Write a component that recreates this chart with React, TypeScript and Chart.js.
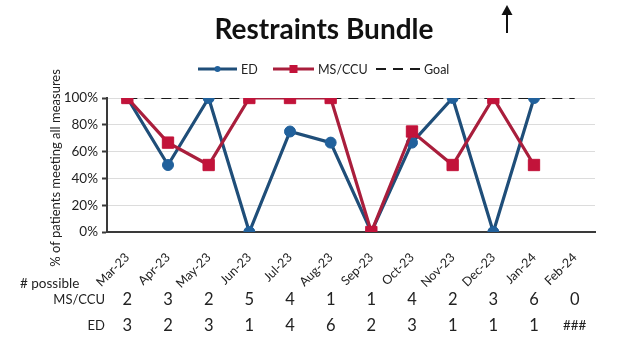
import React, { useEffect, useRef } from "react";
import { Chart, registerables } from "chart.js";

Chart.register(...registerables);

const categories = ["Mar-23", "Apr-23", "May-23", "Jun-23", "Jul-23", "Aug-23", "Sep-23", "Oct-23", "Nov-23", "Dec-23", "Jan-24", "Feb-24"];
const edValues = [100, 50, 100, 0, 75, 66.7, 0, 66.7, 100, 0, 100, null];
const msCcuValues = [100, 66.7, 50, 100, 100, 100, 0, 75, 50, 100, 50, null];
const goalValues = [100, 100, 100, 100, 100, 100, 100, 100, 100, 100, 100, 100];
const msCcuPossible = ["2", "3", "2", "5", "4", "1", "1", "4", "2", "3", "6", "0"];
const edPossible = ["3", "2", "3", "1", "4", "6", "2", "3", "1", "1", "1", "###"];
const yTicks = [0, 20, 40, 60, 80, 100];

const FONT = "Lato, 'Open Sans', sans-serif";
const TEXT = "#222222";
const ED_LINE = "#1F4E79";
const ED_POINT = "#21619C";
const MS_LINE = "#A91E3C";
const MS_POINT = "#C2133A";

// Title, arrow, legend, axis title and the "# possible" table under the axis.
const decorations = {
  id: "decorations",
  afterDraw(chart: any) {
    const ctx = chart.ctx as CanvasRenderingContext2D;
    const x = chart.scales.x;
    ctx.save();

    // title
    ctx.fillStyle = "#111";
    ctx.font = `bold 28px ${FONT}`;
    ctx.textAlign = "center";
    ctx.textBaseline = "middle";
    ctx.fillText("Restraints Bundle", 324, 30);

    // arrow
    ctx.strokeStyle = "#111";
    ctx.fillStyle = "#111";
    ctx.lineWidth = 2;
    ctx.beginPath();
    ctx.moveTo(507, 33);
    ctx.lineTo(507, 12);
    ctx.stroke();
    ctx.beginPath();
    ctx.moveTo(507, 5);
    ctx.lineTo(501.5, 15);
    ctx.lineTo(512.5, 15);
    ctx.closePath();
    ctx.fill();

    // y-axis title
    ctx.save();
    ctx.translate(56, 168);
    ctx.rotate(-Math.PI / 2);
    ctx.fillStyle = TEXT;
    ctx.font = `13px ${FONT}`;
    ctx.textAlign = "center";
    ctx.textBaseline = "middle";
    ctx.fillText("% of patients meeting all measures", 0, 0);
    ctx.restore();

    // legend
    const ly = 69;
    ctx.font = `12.5px ${FONT}`;
    ctx.textAlign = "left";
    ctx.textBaseline = "middle";
    const ds = chart.data.datasets;
    const items = [
      { d: ds[1], x0: 198, x1: 237, tx: 241 },
      { d: ds[0], x0: 273, x1: 314, tx: 318 },
      { d: ds[2], x0: 376, x1: 421, tx: 424 },
    ];
    for (const it of items) {
      ctx.strokeStyle = it.d.borderColor;
      ctx.lineWidth = it.d.borderWidth;
      ctx.setLineDash(it.d.borderDash || []);
      ctx.beginPath();
      ctx.moveTo(it.x0, ly);
      ctx.lineTo(it.x1, ly);
      ctx.stroke();
      ctx.setLineDash([]);
      const mx = (it.x0 + it.x1) / 2;
      if (it.d.pointStyle === "circle") {
        ctx.fillStyle = it.d.pointBackgroundColor;
        ctx.beginPath();
        ctx.arc(mx, ly, 3, 0, Math.PI * 2);
        ctx.fill();
      } else if (it.d.pointStyle === "rect") {
        ctx.fillStyle = it.d.pointBackgroundColor;
        ctx.fillRect(mx - 4, ly - 4, 8, 8);
      }
      ctx.fillStyle = TEXT;
      ctx.fillText(it.d.label, it.tx, ly + 1);
    }

    // table of possible counts
    ctx.fillStyle = TEXT;
    ctx.font = `13.5px ${FONT}`;
    ctx.textAlign = "left";
    ctx.fillText("# possible", 20, 284);
    ctx.font = `13px ${FONT}`;
    ctx.textAlign = "right";
    ctx.fillText("MS/CCU", 105, 300);
    ctx.fillText("ED", 105, 326);
    ctx.textAlign = "center";
    categories.forEach((_, i) => {
      const px = x.getPixelForValue(i);
      ctx.font = `16.5px ${FONT}`;
      ctx.fillText(msCcuPossible[i], px, 300);
      const ev = edPossible[i];
      ctx.font = ev.length > 1 ? `13.5px ${FONT}` : `16.5px ${FONT}`;
      ctx.fillText(ev, px, 326);
    });

    ctx.restore();
  },
};

export default function App() {
  const canvasRef = useRef<HTMLCanvasElement | null>(null);

  useEffect(() => {
    const canvas = canvasRef.current;
    if (!canvas) return;
    const chart = new Chart(canvas, {
      type: "line",
      data: {
        labels: categories,
        datasets: [
          {
            label: "MS/CCU",
            data: msCcuValues,
            borderColor: MS_LINE,
            borderWidth: 3.2,
            pointStyle: "rect",
            pointRadius: 8,
            pointBackgroundColor: MS_POINT,
            pointBorderColor: MS_POINT,
            pointBorderWidth: 1,
            order: 0,
          },
          {
            label: "ED",
            data: edValues,
            borderColor: ED_LINE,
            borderWidth: 3.2,
            pointStyle: "circle",
            pointRadius: 5.5,
            pointBackgroundColor: ED_POINT,
            pointBorderColor: ED_POINT,
            pointBorderWidth: 1,
            order: 1,
          },
          {
            label: "Goal",
            data: goalValues,
            borderColor: "#1a1a1a",
            borderWidth: 2,
            borderDash: [10, 7],
            pointRadius: 0,
            pointStyle: false as any,
            order: 2,
          },
        ] as any,
      },
      options: {
        responsive: false,
        animation: false,
        layout: { padding: { left: 40, right: 25, top: 98, bottom: 0 } },
        plugins: {
          legend: { display: false },
          tooltip: { enabled: false },
          title: { display: false },
        },
        scales: {
          x: {
            offset: true,
            grid: { display: false },
            border: { display: true, color: "#3a3a3a", width: 2 },
            ticks: {
              color: TEXT,
              font: { family: FONT, size: 12.5 },
              minRotation: 45,
              maxRotation: 45,
              padding: 10,
            },
            afterFit: (s: any) => {
              s.height = 107;
            },
          },
          y: {
            min: 0,
            max: 100,
            afterBuildTicks: (s: any) => {
              s.ticks = yTicks.map((v) => ({ value: v }));
            },
            grid: {
              color: "#dcdcdc",
              lineWidth: 1,
              tickColor: "#3a3a3a",
              tickLength: 5,
              tickWidth: 2,
            },
            border: { display: true, color: "#3a3a3a", width: 2 },
            ticks: {
              color: TEXT,
              font: { family: FONT, size: 13.5 },
              padding: 4,
              callback: (v: any) => `${v}%`,
            },
            afterFit: (s: any) => {
              s.width = 67;
            },
          },
        },
      },
      plugins: [decorations],
    });
    return () => chart.destroy();
  }, []);

  return (
    <div style={{ position: "fixed", left: 0, top: 0, width: 620, height: 339, background: "#fff" }}>
      <canvas ref={canvasRef} width={620} height={339} style={{ display: "block" }} />
    </div>
  );
}
